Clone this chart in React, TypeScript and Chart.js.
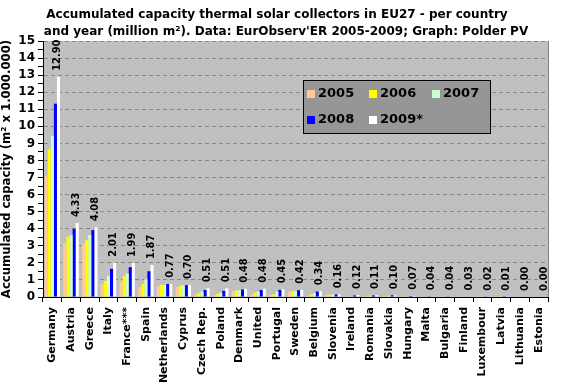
import React, { useEffect, useRef } from "react";
import { Chart, registerables } from "chart.js";

Chart.register(...registerables);

const titleLines = [
  "Accumulated capacity thermal solar collectors in EU27 - per country",
  "and year (million m²). Data: EurObserv'ER 2005-2009; Graph: Polder PV",
];
const yAxisTitle = "Accumulated capacity (m² x 1.000.000)";

const categories = [
  "Germany", "Austria", "Greece", "Italy", "France***", "Spain", "Netherlands",
  "Cyprus", "Czech Rep.", "Poland", "Denmark", "United", "Portugal", "Sweden",
  "Belgium", "Slovenia", "Ireland", "Romania", "Slovakia", "Hungary", "Malta",
  "Bulgaria", "Finland", "Luxembour", "Latvia", "Lithuania", "Estonia",
];

const years = ["2005", "2006", "2007", "2008", "2009*"];

const y2005 = [7.10, 3.16, 3.10, 0.77, 0.92, 0.59, 0.63, 0.59, 0.15, 0.12, 0.36, 0.15, 0.15, 0.32, 0.08, 0.14, 0.02, 0.06, 0.06, 0.02, 0.02, 0.02, 0.02, 0.01, 0.01, 0.00, 0.00];
const y2006 = [8.65, 3.53, 3.33, 0.94, 1.24, 0.77, 0.71, 0.65, 0.22, 0.18, 0.38, 0.25, 0.16, 0.33, 0.15, 0.14, 0.03, 0.07, 0.07, 0.03, 0.03, 0.02, 0.02, 0.01, 0.01, 0.00, 0.00];
const y2007 = [9.45, 3.63, 3.63, 1.24, 1.37, 1.04, 0.71, 0.69, 0.32, 0.25, 0.41, 0.32, 0.32, 0.36, 0.22, 0.15, 0.05, 0.08, 0.08, 0.04, 0.03, 0.03, 0.02, 0.02, 0.01, 0.00, 0.00];
const y2008 = [11.33, 4.00, 3.92, 1.65, 1.75, 1.51, 0.76, 0.70, 0.41, 0.36, 0.44, 0.41, 0.42, 0.40, 0.32, 0.15, 0.09, 0.09, 0.10, 0.06, 0.04, 0.04, 0.03, 0.02, 0.01, 0.00, 0.00];
const y2009 = [12.90, 4.33, 4.08, 2.01, 1.99, 1.87, 0.77, 0.70, 0.51, 0.51, 0.48, 0.48, 0.45, 0.42, 0.34, 0.16, 0.12, 0.11, 0.10, 0.07, 0.04, 0.04, 0.03, 0.02, 0.01, 0.00, 0.00];

const yTicks = { min: 0, max: 15, step: 0.5 };

const colors = ["#FFCC99", "#FFFF00", "#CCFFCC", "#0000FF", "#FFFFFF"];
const FONT = "'DejaVu Sans', Verdana, sans-serif";
const NARROW = "'Liberation Sans Narrow', 'DejaVu Sans Condensed', Arial, sans-serif";

const plotBg = {
  id: "plotBg",
  beforeDraw(chart: any) {
    const { ctx, chartArea: a } = chart;
    ctx.save();
    ctx.fillStyle = "#C0C0C0";
    ctx.fillRect(a.left, a.top, a.right - a.left, a.bottom - a.top);
    ctx.restore();
  },
  afterDraw(chart: any) {
    const { ctx, chartArea: a } = chart;
    ctx.save();
    ctx.strokeStyle = "#808080";
    ctx.lineWidth = 1;
    ctx.beginPath();
    ctx.moveTo(Math.round(a.right) + 0.5, a.top);
    ctx.lineTo(Math.round(a.right) + 0.5, a.bottom);
    ctx.stroke();
    ctx.restore();
  },
};

const titleText = {
  id: "titleText",
  afterDraw(chart: any) {
    const { ctx } = chart;
    ctx.save();
    ctx.fillStyle = "#000";
    ctx.font = `bold 12px ${FONT}`;
    ctx.textAlign = "center";
    ctx.textBaseline = "middle";
    ctx.fillText(titleLines[0], 277, 15);
    ctx.fillText(titleLines[1], 286, 32);
    ctx.restore();
  },
};

const valueLabels = {
  id: "valueLabels",
  afterDatasetsDraw(chart: any) {
    const { ctx } = chart;
    const meta = chart.getDatasetMeta(4);
    ctx.save();
    ctx.fillStyle = "#000";
    ctx.font = `bold 11px ${NARROW}`;
    ctx.textAlign = "left";
    ctx.textBaseline = "middle";
    meta.data.forEach((el: any, i: number) => {
      ctx.save();
      ctx.translate(el.x - 1, el.y - 6);
      ctx.rotate(-Math.PI / 2);
      ctx.fillText(y2009[i].toFixed(2), 0, 0);
      ctx.restore();
    });
    ctx.restore();
  },
};

const boxLegend = {
  id: "boxLegend",
  afterDraw(chart: any) {
    const { ctx } = chart;
    const x0 = 303, y0 = 80, w = 187, h = 53;
    ctx.save();
    ctx.fillStyle = "#969696";
    ctx.fillRect(x0, y0, w, h);
    ctx.strokeStyle = "#000";
    ctx.lineWidth = 1;
    ctx.strokeRect(x0 + 0.5, y0 + 0.5, w, h);
    ctx.font = `bold 13px ${FONT}`;
    ctx.textBaseline = "middle";
    ctx.textAlign = "left";
    const cols = [307, 369, 432];
    const rows = [94, 120];
    years.forEach((yr, i) => {
      const cx = cols[i % 3];
      const cy = rows[Math.floor(i / 3)];
      ctx.fillStyle = colors[i];
      ctx.fillRect(cx, cy - 4, 8, 8);
      ctx.fillStyle = "#000";
      ctx.fillText(yr, cx + 11, cy);
    });
    ctx.restore();
  },
};

export default function App() {
  const ref = useRef<HTMLCanvasElement | null>(null);
  useEffect(() => {
    document.body.style.margin = "0";
    const series = [y2005, y2006, y2007, y2008, y2009];
    const chart = new Chart(ref.current as HTMLCanvasElement, {
      type: "bar",
      data: {
        labels: categories,
        datasets: series.map((d, i) => ({
          label: years[i],
          data: d,
          backgroundColor: colors[i],
          borderWidth: 0,
          categoryPercentage: 0.82,
          barPercentage: 1,
        })),
      },
      options: {
        animation: false,
        responsive: false,
        devicePixelRatio: 1,
        layout: { padding: { left: 0, right: 13, top: 41, bottom: 0 } },
        plugins: {
          legend: { display: false },
          tooltip: { enabled: false },
          title: { display: false },
        },
        scales: {
          x: {
            grid: { offset: true, drawOnChartArea: false, drawTicks: true, tickLength: 5, color: "#000" },
            border: { color: "#000", width: 1 },
            ticks: {
              color: "#000",
              font: { family: FONT, size: 11, weight: "bold" },
              minRotation: 90,
              maxRotation: 90,
              autoSkip: false,
              padding: 5,
            },
            afterFit(s: any) { s.height = 94; },
          },
          y: {
            min: yTicks.min,
            max: yTicks.max,
            ticks: {
              stepSize: yTicks.step,
              autoSkip: false,
              color: "#000",
              font: { family: FONT, size: 12, weight: "bold" },
              padding: 3,
              callback: (v: any) => (Number.isInteger(v) ? String(v) : ""),
            },
            grid: {
              color: (c: any) => (c.tick && Number.isInteger(c.tick.value) && c.tick.value > 0 ? "#888888" : "rgba(0,0,0,0)"),
              tickColor: "#000",
              tickLength: 5,
              lineWidth: 1,
            },
            border: { color: "#000", width: 1, dash: [4, 3] },
            title: {
              display: true,
              text: yAxisTitle,
              color: "#000",
              font: { family: FONT, size: 11.7, weight: "bold" },
              padding: 0,
            },
            afterFit(s: any) { s.width = 43; },
          },
        },
      },
      plugins: [plotBg, valueLabels, boxLegend, titleText],
    } as any);
    return () => chart.destroy();
  }, []);
  return (
    <div style={{ width: 561, height: 391 }}>
      <canvas ref={ref} width={561} height={391} />
    </div>
  );
}
